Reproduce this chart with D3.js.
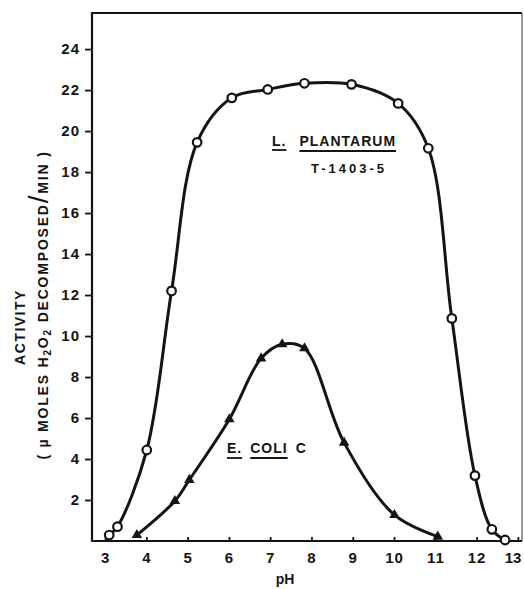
<!DOCTYPE html>
<html>
<head>
<meta charset="utf-8">
<script src="https://cdn.jsdelivr.net/npm/d3@7"></script>
<style>
  html, body { margin: 0; padding: 0; background: #fff; }
  svg { display: block; }
  text { font-family: "Liberation Sans", Arial, sans-serif; font-weight: bold; fill: #141414; }
</style>
</head>
<body>
<div id="chart"></div>
<script>
(function(){

  // L. plantarum T-1403-5 (open circles)
  var plantarumPH = [3.10, 3.30, 4.01, 4.61, 5.23, 6.07, 6.94, 7.83, 8.97, 10.10, 10.83, 11.40, 11.96, 12.37, 12.69];
  var plantarumActivity = [0.29, 0.70, 4.44, 12.20, 19.45, 21.62, 22.03, 22.33, 22.28, 21.35, 19.16, 10.86, 3.19, 0.57, 0.05];

  // E. coli C (filled triangles)
  var coliPH = [3.77, 4.69, 5.04, 6.01, 6.78, 7.29, 7.83, 8.79, 10.01, 11.06];
  var coliActivity = [0.29, 1.95, 2.98, 5.94, 8.91, 9.60, 9.40, 4.80, 1.27, 0.21];

  var xTicks = [3, 4, 5, 6, 7, 8, 9, 10, 11, 12, 13];
  var yTicks = [2, 4, 6, 8, 10, 12, 14, 16, 18, 20, 22, 24];

  var ink = '#141414';
  var W = 524, H = 589;
  var left = 92, right = 522, top = 13, bottom = 541;

  var x = d3.scaleLinear().domain([2.683, 13.10]).range([left, right]);
  var y = d3.scaleLinear().domain([0, 25.76]).range([bottom, top]);

  var svg = d3.select('#chart')
    .append('svg')
    .attr('width', W)
    .attr('height', H);

  // frame
  svg.append('line').attr('x1', left).attr('x2', right).attr('y1', top).attr('y2', top)
    .attr('stroke', ink).attr('stroke-width', 2);
  svg.append('line').attr('x1', right).attr('x2', right).attr('y1', top).attr('y2', bottom)
    .attr('stroke', '#555').attr('stroke-width', 1.2);
  svg.append('line').attr('x1', left).attr('x2', left).attr('y1', top - 1).attr('y2', bottom + 1)
    .attr('stroke', ink).attr('stroke-width', 2.2);
  svg.append('line').attr('x1', left).attr('x2', right).attr('y1', bottom).attr('y2', bottom)
    .attr('stroke', ink).attr('stroke-width', 2.2);

  // axes
  var yAxis = svg.append('g')
    .attr('transform', 'translate(' + left + ',0)')
    .call(d3.axisLeft(y).tickValues(yTicks).tickSize(7).tickPadding(5));
  var xAxis = svg.append('g')
    .attr('transform', 'translate(0,' + bottom + ')')
    .call(d3.axisBottom(x).tickValues(xTicks).tickSizeInner(-4).tickSizeOuter(0).tickPadding(11));

  [yAxis, xAxis].forEach(function(g) {
    g.select('.domain').remove();
    g.selectAll('.tick line').attr('stroke', ink).attr('stroke-width', 1.8);
    g.selectAll('.tick text')
      .attr('font-family', '"Liberation Sans", Arial, sans-serif')
      .attr('font-size', 15)
      .attr('font-weight', 'bold')
      .attr('letter-spacing', 1)
      .attr('fill', ink);
  });
  // last pH label sits against the page edge, keep it inside
  xAxis.selectAll('.tick text')
    .filter(function(d) { return d === 13; })
    .attr('text-anchor', 'end')
    .attr('letter-spacing', 0)
    .attr('dx', 3);

  // curves
  var line = d3.line()
    .x(function(d) { return x(d[0]); })
    .y(function(d) { return y(d[1]); })
    .curve(d3.curveCatmullRom.alpha(0.5));

  var plantarum = d3.zip(plantarumPH, plantarumActivity);
  var coli = d3.zip(coliPH, coliActivity);

  svg.append('path').datum(plantarum)
    .attr('d', line).attr('fill', 'none').attr('stroke', ink).attr('stroke-width', 3);
  svg.append('path').datum(coli)
    .attr('d', line).attr('fill', 'none').attr('stroke', ink).attr('stroke-width', 3);

  svg.selectAll('circle.pt')
    .data(plantarum)
    .enter()
    .append('circle')
    .attr('class', 'pt')
    .attr('cx', function(d) { return x(d[0]); })
    .attr('cy', function(d) { return y(d[1]); })
    .attr('r', 4.3)
    .attr('fill', '#fff')
    .attr('stroke', ink)
    .attr('stroke-width', 2.2);

  svg.selectAll('path.tri')
    .data(coli)
    .enter()
    .append('path')
    .attr('class', 'tri')
    .attr('d', d3.symbol(d3.symbolTriangle, 48))
    .attr('transform', function(d) { return 'translate(' + x(d[0]) + ',' + y(d[1]) + ')'; })
    .attr('fill', ink);

  // labels with hand-drawn style underlines
  function label(xPos, yPos, size, parts) {
    var g = svg.append('g');
    var cursor = xPos;
    parts.forEach(function(p) {
      var t = g.append('text')
        .attr('x', cursor)
        .attr('y', yPos)
        .attr('font-size', size)
        .attr('letter-spacing', p.spacing || 1)
        .text(p.text);
      var w = t.node().getComputedTextLength();
      if (p.underline) {
        g.append('line')
          .attr('x1', cursor).attr('x2', cursor + w)
          .attr('y1', yPos + p.underline).attr('y2', yPos + p.underline)
          .attr('stroke', ink).attr('stroke-width', 1.8);
      }
      cursor += w + (p.gap || 0);
    });
  }

  label(272, 146, 14, [
    {text: 'L.', underline: 4, gap: 13},
    {text: 'PLANTARUM', underline: 5}
  ]);
  label(311, 173, 13, [{text: 'T-1403-5', spacing: 3}]);

  label(227, 453, 14, [
    {text: 'E.', underline: 5, gap: 8},
    {text: 'COLI', underline: 5, gap: 8},
    {text: 'C'}
  ]);

  svg.append('text')
    .attr('x', 285)
    .attr('y', 584)
    .attr('text-anchor', 'middle')
    .attr('font-size', 14)
    .text('pH');

  // y axis title, two rotated lines
  svg.append('text')
    .attr('transform', 'translate(25,327) rotate(-90)')
    .attr('text-anchor', 'middle')
    .attr('font-size', 14)
    .attr('letter-spacing', 1.5)
    .text('ACTIVITY');

  var t2 = svg.append('text')
    .attr('transform', 'translate(48,305) rotate(-90)')
    .attr('text-anchor', 'middle')
    .attr('font-size', 14)
    .attr('letter-spacing', 1.8);
  t2.append('tspan').text('( \u00b5 MOLES  H');
  t2.append('tspan').attr('font-size', 10).attr('baseline-shift', '-25%').text('2');
  t2.append('tspan').text('O');
  t2.append('tspan').attr('font-size', 10).attr('baseline-shift', '-25%').text('2');
  t2.append('tspan').text('  DECOMPOSED');
  t2.append('tspan').attr('font-size', 28).attr('font-weight', 'normal').text('/');
  t2.append('tspan').text('MIN )');

})();
</script>
</body>
</html>
